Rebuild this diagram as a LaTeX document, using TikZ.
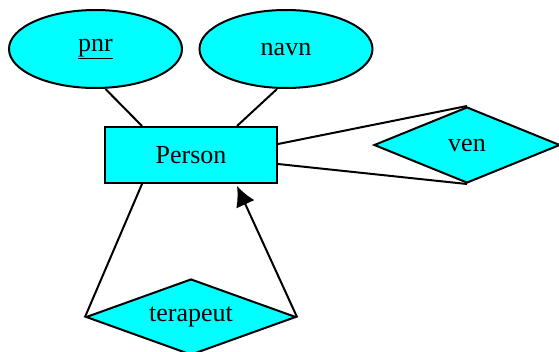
\documentclass[tikz,border=0pt]{standalone}
\usepackage{fontspec}
\setmainfont{Liberation Serif}
\usetikzlibrary{shapes.geometric,arrows.meta}
\definecolor{erfill}{RGB}{0,255,255}
\tikzset{
  x=1pt, y=-1pt,
  attr/.style={ellipse, draw=black, fill=erfill, line width=2pt, inner sep=0pt,
    minimum width=173pt, minimum height=78pt, font=\fontsize{26}{30}\selectfont},
  entity/.style={rectangle, draw=black, fill=erfill, line width=2pt, inner sep=0pt,
    minimum width=172pt, minimum height=56pt, font=\fontsize{26}{30}\selectfont},
  relation/.style={diamond, draw=black, fill=erfill, line width=2pt, inner sep=0pt,
    font=\fontsize{26}{30}\selectfont},
  link/.style={line width=2pt, draw=black},
}
\begin{document}
\begin{tikzpicture}
\useasboundingbox (0,0) rectangle (559,351);

% attributes
\node[attr] (pnr)  at (95.5,49) {\underline{pnr}};
\node[attr] (navn) at (286,49)  {navn};

% entity
\node[entity] (person) at (191,155) {Person};

% relationships
\node[relation, aspect=2.45, minimum width=186pt, minimum height=76pt] (ven) at (467,145) {ven};
\node[relation, aspect=2.76, minimum width=210pt, minimum height=76pt] (terapeut) at (191,317) {terapeut};

% attribute links
\draw[link] ([xshift=10pt]pnr.south) -- ([xshift=38pt]person.north west);
\draw[link] ([xshift=-9pt]navn.south) -- ([xshift=133pt]person.north west);

% recursive relationship ven
\draw[link] ([yshift=11pt]person.east) -- (ven.north);
\draw[link] ([yshift=-9pt]person.east) -- (ven.south);

% recursive relationship terapeut
\draw[link] ([xshift=38pt]person.south west) -- (terapeut.west);
\draw[link, -{Latex[length=20pt,width=20pt]}] (terapeut.east) -- ([xshift=133pt,yshift=-2pt]person.south west);
\end{tikzpicture}
\end{document}
